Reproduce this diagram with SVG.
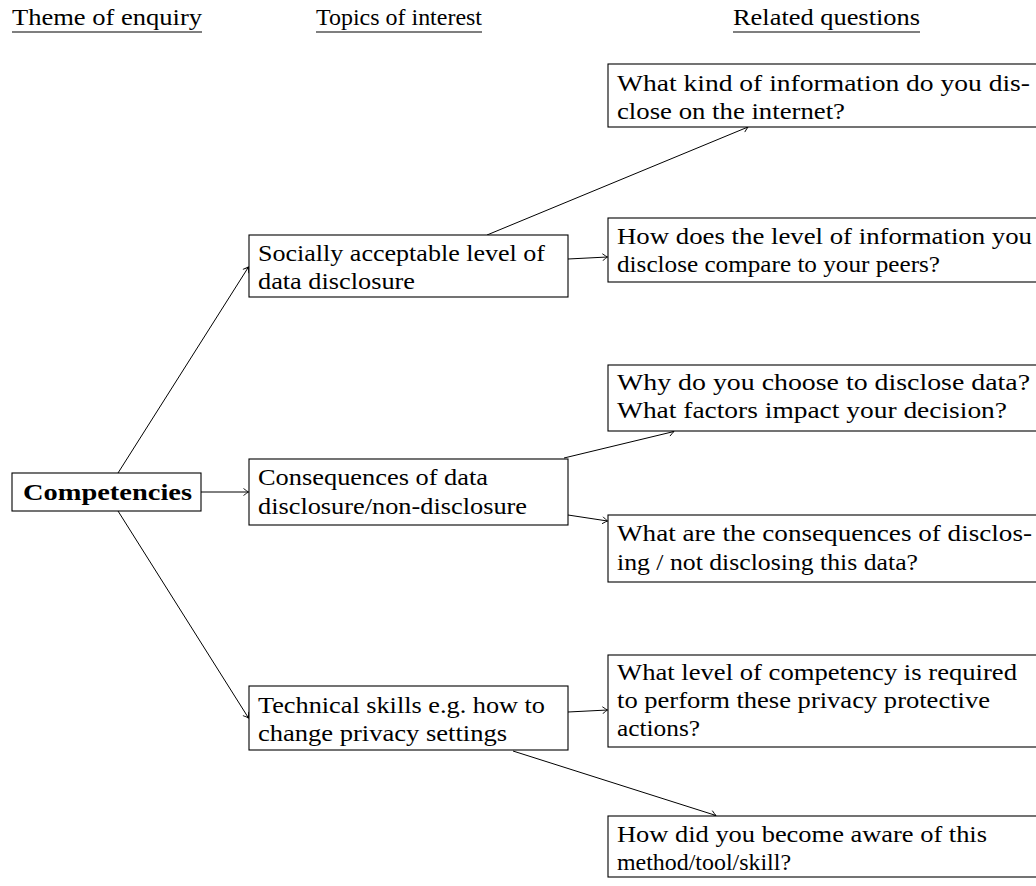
<svg xmlns="http://www.w3.org/2000/svg" width="1036" height="886" viewBox="0 0 1036 886" font-family="'Liberation Serif', Tinos, 'Times New Roman', serif">
  <style>
    text { font-family: "Liberation Serif", Tinos, "Times New Roman", serif; font-size: 24px; fill: #000; }
    .bold { font-weight: bold; }
    .box { fill: #fff; stroke: #000; stroke-width: 1.1; }
    .rule { stroke: #000; stroke-width: 1.1; }
    .edge { fill: none; stroke: #000; stroke-width: 1; marker-end: url(#tip); }
  </style>
  <defs>
    <marker id="tip" viewBox="-6 -4 7 8" refX="0" refY="0" markerWidth="7" markerHeight="8" markerUnits="userSpaceOnUse" orient="auto">
      <path d="M -5 -3.5 Q -1.5 -0.8 0 0 Q -1.5 0.8 -5 3.5" fill="none" stroke="#000" stroke-width="0.9"/>
    </marker>
  </defs>
  <rect width="1036" height="886" fill="#fff"/>

  <!-- column headings -->
  <g id="headings">
    <text x="12" y="25" textLength="190" lengthAdjust="spacingAndGlyphs">Theme of enquiry</text>
    <line class="rule" x1="12" y1="32" x2="202" y2="32"/>
    <text x="316" y="25" textLength="166" lengthAdjust="spacingAndGlyphs">Topics of interest</text>
    <line class="rule" x1="316" y1="32" x2="482" y2="32"/>
    <text x="733" y="25" textLength="187" lengthAdjust="spacingAndGlyphs">Related questions</text>
    <line class="rule" x1="733" y1="32" x2="920" y2="32"/>
  </g>

  <!-- connectors -->
  <g id="connectors">
    <line class="edge" x1="118" y1="473" x2="248.5" y2="267"/>
    <line class="edge" x1="201" y1="492" x2="248.5" y2="492"/>
    <line class="edge" x1="118" y1="511" x2="248.5" y2="718"/>
    <line class="edge" x1="487" y1="235" x2="748" y2="127"/>
    <line class="edge" x1="568" y1="259" x2="607.5" y2="257"/>
    <line class="edge" x1="564" y1="458" x2="674" y2="431.5"/>
    <line class="edge" x1="568" y1="515" x2="607.5" y2="521"/>
    <line class="edge" x1="568" y1="712" x2="607.5" y2="710"/>
    <line class="edge" x1="513" y1="751" x2="716" y2="815.5"/>
  </g>

  <!-- theme -->
  <g id="competencies">
    <rect class="box" x="12" y="473" width="189" height="38"/>
    <text class="bold" x="23" y="500" textLength="169" lengthAdjust="spacingAndGlyphs">Competencies</text>
  </g>

  <!-- topics -->
  <g id="topic-disclosure-level">
    <rect class="box" x="249" y="235" width="319" height="62"/>
    <text x="258" y="261" textLength="287" lengthAdjust="spacingAndGlyphs">Socially acceptable level of</text>
    <text x="258" y="289" textLength="157" lengthAdjust="spacingAndGlyphs">data disclosure</text>
  </g>
  <g id="topic-consequences">
    <rect class="box" x="249" y="459" width="319" height="66"/>
    <text x="258" y="485" textLength="230" lengthAdjust="spacingAndGlyphs">Consequences of data</text>
    <text x="258" y="514" textLength="269" lengthAdjust="spacingAndGlyphs">disclosure/non-disclosure</text>
  </g>
  <g id="topic-technical-skills">
    <rect class="box" x="249" y="686" width="319" height="64"/>
    <text x="258" y="713" textLength="287" lengthAdjust="spacingAndGlyphs">Technical skills e.g. how to</text>
    <text x="258" y="741" textLength="249" lengthAdjust="spacingAndGlyphs">change privacy settings</text>
  </g>

  <!-- questions -->
  <g id="question-what-kind">
    <rect class="box" x="608" y="64" width="440" height="63"/>
    <text x="617" y="91" textLength="413" lengthAdjust="spacingAndGlyphs">What kind of information do you dis-</text>
    <text x="617" y="119" textLength="228" lengthAdjust="spacingAndGlyphs">close on the internet?</text>
  </g>
  <g id="question-peers">
    <rect class="box" x="608" y="218" width="440" height="64"/>
    <text x="617" y="244" textLength="415" lengthAdjust="spacingAndGlyphs">How does the level of information you</text>
    <text x="617" y="272" textLength="323" lengthAdjust="spacingAndGlyphs">disclose compare to your peers?</text>
  </g>
  <g id="question-why">
    <rect class="box" x="608" y="365" width="440" height="66"/>
    <text x="617" y="390" textLength="413" lengthAdjust="spacingAndGlyphs">Why do you choose to disclose data?</text>
    <text x="617" y="418" textLength="390" lengthAdjust="spacingAndGlyphs">What factors impact your decision?</text>
  </g>
  <g id="question-consequences">
    <rect class="box" x="608" y="515" width="440" height="67"/>
    <text x="617" y="541" textLength="415" lengthAdjust="spacingAndGlyphs">What are the consequences of disclos-</text>
    <text x="617" y="570" textLength="301" lengthAdjust="spacingAndGlyphs">ing / not disclosing this data?</text>
  </g>
  <g id="question-competency-level">
    <rect class="box" x="608" y="655" width="440" height="92"/>
    <text x="617" y="680" textLength="400" lengthAdjust="spacingAndGlyphs">What level of competency is required</text>
    <text x="617" y="708" textLength="373" lengthAdjust="spacingAndGlyphs">to perform these privacy protective</text>
    <text x="617" y="736" textLength="83" lengthAdjust="spacingAndGlyphs">actions?</text>
  </g>
  <g id="question-awareness">
    <rect class="box" x="608" y="816" width="440" height="61"/>
    <text x="617" y="842" textLength="370" lengthAdjust="spacingAndGlyphs">How did you become aware of this</text>
    <text x="617" y="870" textLength="174" lengthAdjust="spacingAndGlyphs">method/tool/skill?</text>
  </g>
</svg>
